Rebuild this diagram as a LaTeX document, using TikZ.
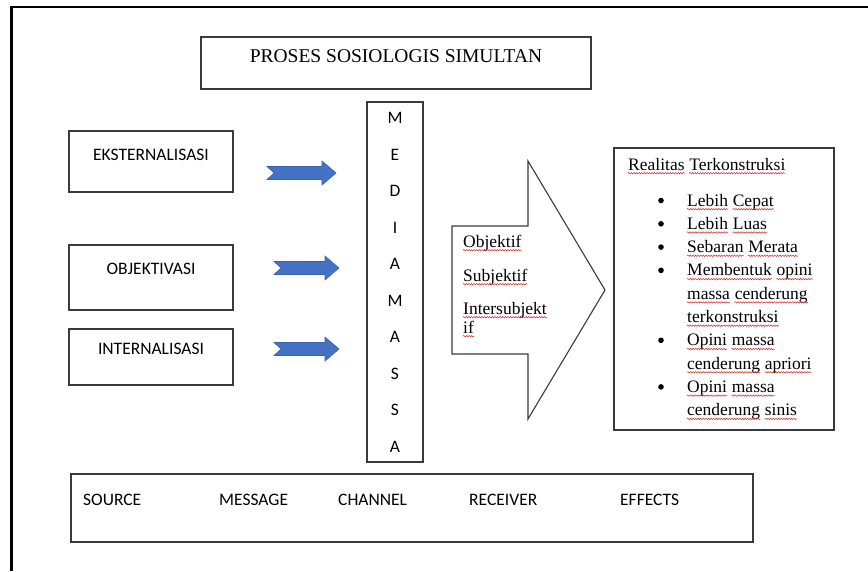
\documentclass[tikz,border=0pt]{standalone}
\usepackage{fontspec}
\setmainfont{Liberation Serif}
\newfontfamily\calibri{Carlito}
\usetikzlibrary{decorations.pathmorphing}
\definecolor{spellred}{HTML}{D42A2A}
\definecolor{boxgray}{HTML}{3A3A3A}
\definecolor{arrowblue}{HTML}{4472C4}
\definecolor{arrowedge}{HTML}{3A62A8}
\tikzset{
  box/.style={draw=boxgray, line width=1.2pt, inner sep=0pt},
  sanslbl/.style={font=\calibri\fontsize{17.5}{21}\selectfont, inner sep=0pt, anchor=base},
  sansleft/.style={font=\calibri\fontsize{17.5}{21}\selectfont, inner sep=0pt, anchor=base west},
  seriftxt/.style={font=\fontsize{17.5}{21}\selectfont, inner sep=0pt, anchor=base west},
  bulletmark/.style={circle, fill=black, inner sep=0pt, minimum size=5.6pt},
  spell/.style={draw=spellred, line width=0.5pt, decorate,
    decoration={snake, amplitude=0.7pt, segment length=2.6pt}},
  pics/barrow/.style={code={
    \filldraw[draw=arrowedge, fill=arrowblue, line width=0.6pt]
      (0,-6.5) -- (#1-14,-6.5) -- (#1-14,-12) -- (#1,0) -- (#1-14,12)
      -- (#1-14,6.5) -- (0,6.5) -- (7,0) -- cycle;
  }}
}
% a line of words, each with its own red spell-check underline
\newcommand\wline[4]{%
  \coordinate (#1-0) at (#2,#3);
  \foreach \w [count=\k, remember=\k as \pk (initially 0)] in {#4} {
    \ifnum\k=1
      \node[seriftxt] (#1-\k) at (#1-0) {\w};
    \else
      \node[seriftxt] (#1-\k) at ([xshift=4.4pt]#1-\pk.base east) {\w};
    \fi
    \draw[spell] ([yshift=-3.2pt]#1-\k.base west) -- ([yshift=-3.2pt]#1-\k.base east);
  }}
\begin{document}
\begin{tikzpicture}[x=1pt,y=-1pt]
\useasboundingbox (0,0) rectangle (868,571);
% outer frame (cut off at right and bottom)
\draw[line width=2.5pt, line join=miter] (11.5,571) -- (11.5,7) -- (868,7);

% title
\node[box, minimum width=390, minimum height=52] (title) at (396,63) {};
\node[anchor=base, inner sep=0pt, font=\fontsize{19.5}{23}\selectfont] (titletxt) at (396,62.5) {PROSES SOSIOLOGIS SIMULTAN};

% left boxes
\node[box, minimum width=164, minimum height=61] (ext) at (151,161.5) {};
\node[sanslbl] (exttxt) at (151,160.6) {EKSTERNALISASI};
\node[box, minimum width=164, minimum height=65] (obj) at (151,277.5) {};
\node[sanslbl] (objtxt) at (151,274.6) {OBJEKTIVASI};
\node[box, minimum width=164, minimum height=56] (int) at (151,357) {};
\node[sanslbl] (inttxt) at (151,354.6) {INTERNALISASI};

% blue arrows
\pic (a1) at (267,173) {barrow=69};
\pic (a2) at (274,268) {barrow=65};
\pic (a3) at (274,349) {barrow=65};

% media massa column
\node[box, minimum width=56, minimum height=360] (media) at (395,282) {};
\foreach \l [count=\i from 0] in {M,E,D,I,A,M,A,S,S,A}
  \node[sanslbl] (m\i) at (395,123.8+36.5*\i) {\l};

% big arrow
\draw[draw=boxgray, line width=1.1pt, line join=miter]
  (452,226) -- (528,226) -- (528,161) -- (605,290) -- (528,419)
  -- (528,354) -- (452,354) -- cycle;
\wline{t1}{463}{247}{Objektif}
\wline{t2}{463}{281}{Subjektif}
\wline{t3}{463}{314}{Intersubjekt}
\wline{t4}{463}{333}{if}

% realitas box
\node[box, minimum width=220, minimum height=282] (real) at (724,289) {};
\wline{rt}{628}{170}{Realitas,Terkonstruksi}
\node[bulletmark] (b0) at (661,200.5) {};
\node[bulletmark] (b1) at (661,223.8) {};
\node[bulletmark] (b2) at (661,247.1) {};
\node[bulletmark] (b3) at (661,270.4) {};
\node[bulletmark] (b6) at (661,340.3) {};
\node[bulletmark] (b8) at (661,386.9) {};
\wline{r0}{687}{206}{Lebih,Cepat}
\wline{r1}{687}{229.3}{Lebih,Luas}
\wline{r2}{687}{252.6}{Sebaran,Merata}
\wline{r3}{687}{275.9}{Membentuk,opini}
\wline{r4}{687}{299.2}{massa,cenderung}
\wline{r5}{687}{322.5}{terkonstruksi}
\wline{r6}{687}{345.8}{Opini,massa}
\wline{r7}{687}{369.1}{cenderung,apriori}
\wline{r8}{687}{392.4}{Opini,massa}
\wline{r9}{687}{415.7}{cenderung,sinis}

% bottom box
\node[box, minimum width=682, minimum height=68] (bottom) at (412,508) {};
\node[sansleft] (src) at (83,505.6) {SOURCE};
\node[sansleft] (msg) at (219,505.6) {MESSAGE};
\node[sansleft] (chn) at (338,505.6) {CHANNEL};
\node[sansleft] (rcv) at (469,505.6) {RECEIVER};
\node[sansleft] (eff) at (620,505.6) {EFFECTS};
\end{tikzpicture}
\end{document}
